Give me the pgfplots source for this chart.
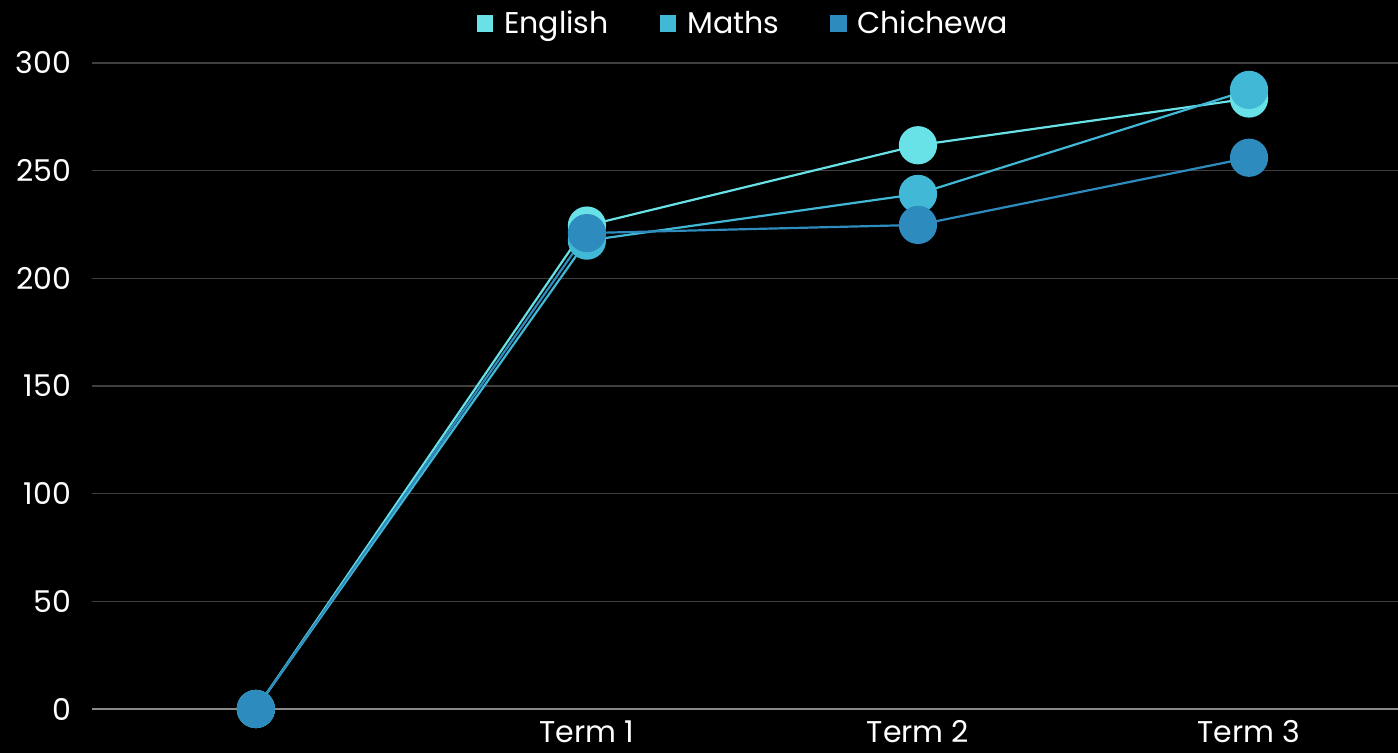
\documentclass[border=0pt]{standalone}
\usepackage{pgfplots}
\pgfplotsset{compat=1.18}
\usepackage{fontspec}
\setmainfont{Poppins}
\definecolor{cEng}{HTML}{68E2E6}
\definecolor{cMat}{HTML}{41B8D6}
\definecolor{cChi}{HTML}{2E8BBE}
\definecolor{gridc}{HTML}{404040}
\definecolor{basec}{HTML}{8A8A8A}
\begin{document}
\begin{tikzpicture}
\fill[black] (-46pt,-22pt) rectangle (653pt,354.5pt);
\useasboundingbox (-46pt,-22pt) rectangle (653pt,354.5pt);
\begin{axis}[
  at={(0,0)}, anchor=south west,
  scale only axis, width=653pt, height=323pt,
  xmin=-0.495, xmax=3.45, ymin=0, ymax=300,
  clip=false,
  axis line style={draw=none},
  axis x line*=bottom, axis y line*=left,
  xtick={1,2,3}, xticklabels={Term 1,Term 2,Term 3},
  ytick={0,50,100,150,200,250,300},
  ymajorgrids, grid style={gridc, line width=0.8pt},
  major tick length=0pt,
  tick label style={white, font=\fontsize{15}{17}\selectfont},
  /pgf/number format/assume math mode=true,
  yticklabel style={anchor=east, xshift=-7pt},
  xticklabel style={anchor=north, yshift=-5.5pt, inner sep=0pt, text depth=0pt},
  legend columns=3,
  legend style={at={(0.5,1.061)}, anchor=center, draw=none, fill=black,
    text=white, font=\fontsize{15}{17}\selectfont,
    /tikz/every odd column/.append style={column sep=4pt},
    /tikz/every even column/.append style={column sep=24pt}},
  legend image code/.code={\path[#1, mark=square*, mark size=3.6pt, mark options={draw=none}] plot coordinates {(0pt,0pt)};},
  every axis plot/.append style={line width=1.1pt, mark=*, mark size=9pt},
]
\draw[basec, line width=1pt] (axis cs:-0.495,0) -- (axis cs:3.45,0);
\addplot[cEng, mark options={fill=cEng, draw=none}] coordinates {(0,0) (1,224.5) (2,261.8) (3,283.5)};
\addlegendentry{English}
\addplot[cMat, mark options={fill=cMat, draw=none}] coordinates {(0,0) (1,217.5) (2,239.2) (3,287.5)};
\addlegendentry{Maths}
\addplot[cChi, mark options={fill=cChi, draw=none}] coordinates {(0,0) (1,221) (2,224.8) (3,256)};
\addlegendentry{Chichewa}
\end{axis}
\end{tikzpicture}
\end{document}
